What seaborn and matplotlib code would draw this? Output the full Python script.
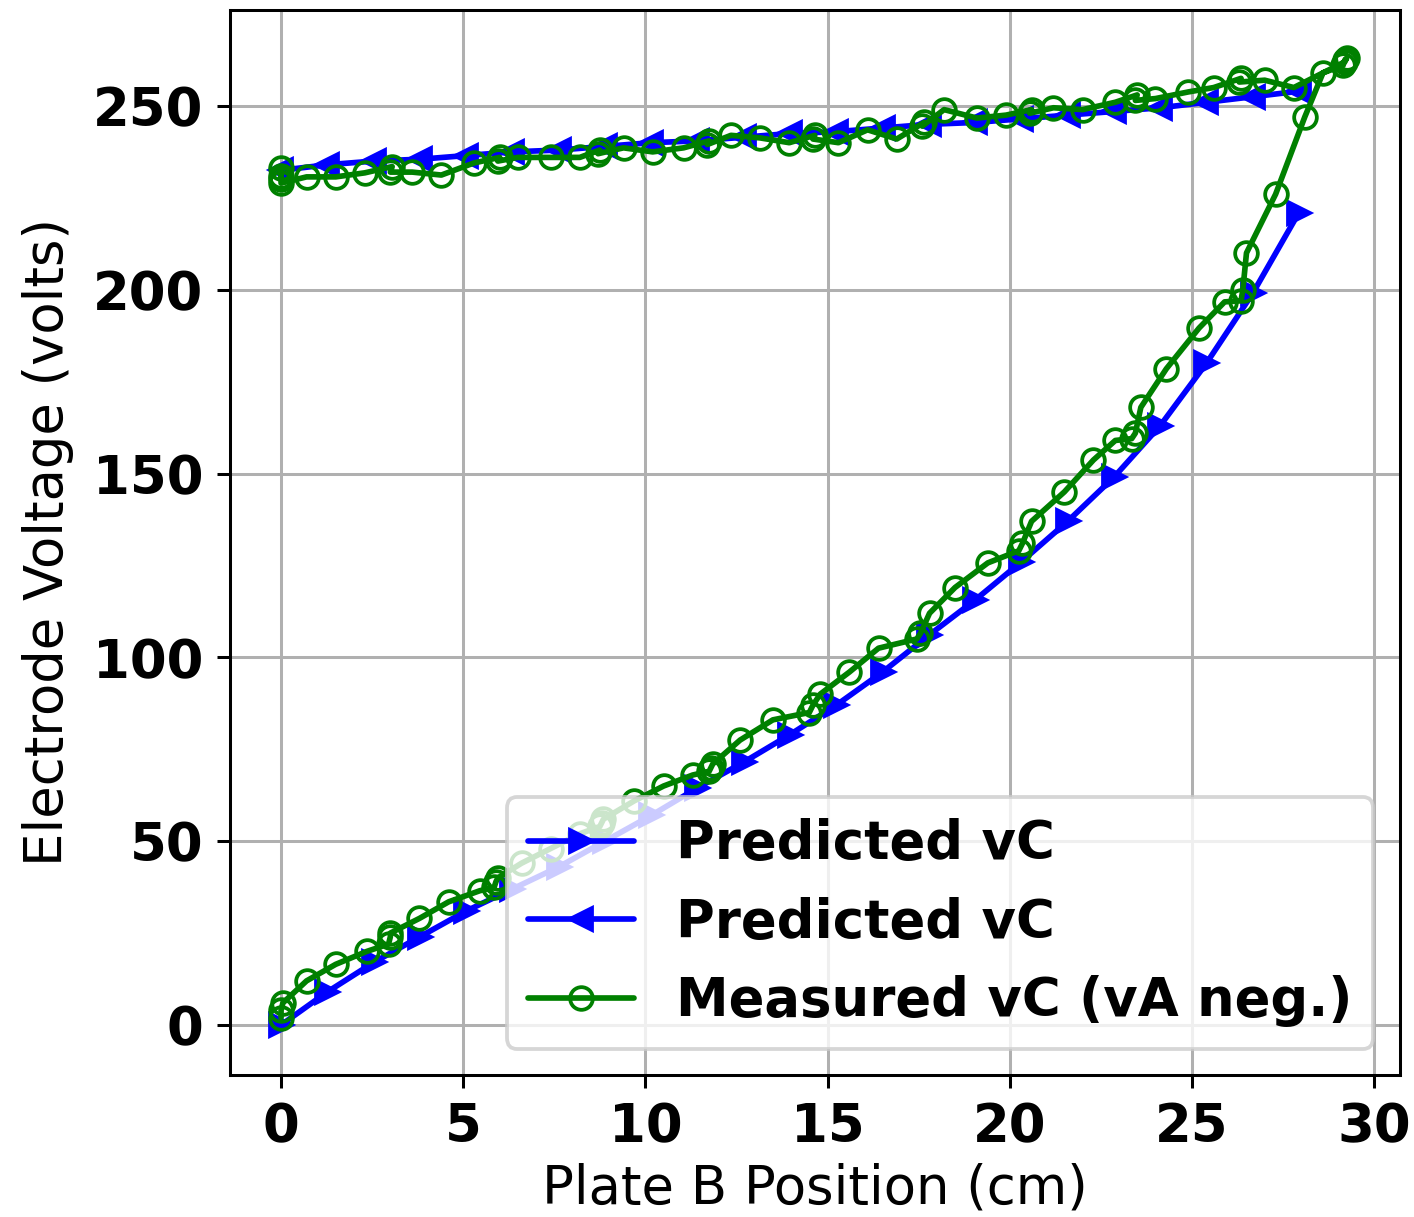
import matplotlib
matplotlib.use("Agg")
import matplotlib.pyplot as plt
import seaborn as sns

# Plate B positions for the model (half-inch steps, in cm)
pred_x = [0.0, 1.27, 2.54, 3.81, 5.08, 6.35, 7.62, 8.89, 10.16, 11.43, 12.7,
          13.97, 15.24, 16.51, 17.78, 19.05, 20.32, 21.59, 22.86, 24.13,
          25.4, 26.67, 27.94]
# Predicted vC while plate B moves outward
pred_out_v = [0, 9, 17, 24, 31, 37, 43, 50, 57, 64.5, 71.5, 79, 87, 96, 106,
              115.6, 126, 137, 149, 163, 180, 199, 221]
# Predicted vC while plate B moves back (listed from far end to start)
pred_back_x = pred_x[::-1]
pred_back_v = [254, 252.5, 251, 249.5, 248.5, 247.5, 246.5, 245.5, 245, 244,
               243, 242.5, 241.5, 240.5, 240, 239, 238, 237.5, 236.5, 235.5,
               235, 234, 232.5]

# Measured vC (vA negative), full sweep out and back
meas_x = [0.0, 0.0, 0.05, 0.7, 1.5, 2.35, 2.95, 3.0, 3.0, 3.8, 4.6, 5.45,
          5.85, 5.9, 5.95, 6.6, 7.4, 8.2, 8.75, 8.8, 8.85, 9.7, 10.5, 11.3,
          11.75, 11.8, 11.85, 12.6, 13.5, 14.5, 14.6, 14.8, 15.6, 16.4, 17.45,
          17.55, 17.8, 18.5, 19.4, 20.25, 20.35, 20.6, 21.5, 22.3, 22.9, 23.35,
          23.45, 23.6, 24.3, 25.2, 25.9, 26.35, 26.4, 26.5, 27.3, 28.1, 28.6,
          29.15, 29.2, 29.25,
          29.2, 27.8, 27.0, 26.3, 26.35, 25.6, 24.9, 24.0, 23.45, 23.5, 22.9,
          22.0, 21.2, 20.55, 20.6, 19.9, 19.1, 18.2, 17.6, 17.65, 16.9, 16.1,
          15.3, 14.6, 14.65, 13.95, 13.15, 12.35, 11.7, 11.75, 11.05, 10.2,
          9.4, 8.7, 8.75, 8.2, 7.4, 6.5, 5.95, 6.0, 5.3, 4.4, 3.6, 3.0, 3.05,
          2.3, 1.5, 0.7, 0.0, 0.0, 0.0, 0.0]
meas_v = [2, 4, 6, 12, 16.5, 20, 22, 24, 25, 29, 33.5, 36.5, 37.5, 39, 40,
          44, 48, 52, 54, 55, 56, 61, 65, 68, 69, 70, 71, 77.5, 83, 85, 87,
          90, 96, 102.5, 105, 106.5, 112, 119, 125.7, 129, 131, 137, 145,
          153.7, 159, 159.5, 161, 168, 178.5, 189.6, 196.7, 197, 200, 210,
          226, 247, 259, 261, 262.5, 263,
          262, 255, 257, 256.5, 257.5, 255, 253.8, 252, 251.5, 253, 251,
          249, 249.5, 248, 249, 247.5, 246.7, 249, 244.5, 245.5, 241, 243.5,
          240, 241, 242, 240, 241.3, 242, 239.5, 240.5, 238.6, 237.5, 238.6,
          237, 238, 236, 236, 236, 235, 236, 234.5, 231.2, 232, 232, 233.5,
          231.8, 230.7, 230.7, 229, 231, 233, 230]

sns.set_style("ticks", {"axes.grid": True})
plt.rcParams.update({
    "font.family": ["DejaVu Sans"],
    "text.color": "black",
    "axes.labelcolor": "black",
    "axes.edgecolor": "black",
    "axes.linewidth": 0.8,
    "grid.color": "#b0b0b0",
    "grid.linewidth": 0.8,
    "xtick.color": "black",
    "ytick.color": "black",
    "xtick.major.size": 3.5,
    "ytick.major.size": 3.5,
    "xtick.major.width": 0.8,
    "ytick.major.width": 0.8,
})

dpi = 272
fig = plt.figure(figsize=(1414 / dpi, 1217 / dpi), dpi=dpi)
ax = fig.add_axes([0.1627, 0.1167, 0.8273, 0.8751])

sns.lineplot(x=pred_x, y=pred_out_v, sort=False, estimator=None, ax=ax,
             color="b", marker=">", markersize=6, linewidth=1.5,
             markeredgecolor="b", markeredgewidth=1.0, label="Predicted vC")
sns.lineplot(x=pred_back_x, y=pred_back_v, sort=False, estimator=None, ax=ax,
             color="b", marker="<", markersize=6, linewidth=1.5,
             markeredgecolor="b", markeredgewidth=1.0, label="Predicted vC")
sns.lineplot(x=meas_x, y=meas_v, sort=False, estimator=None, ax=ax,
             color="g", marker="o", markersize=6, linewidth=1.5,
             markerfacecolor="none", markeredgecolor="g", markeredgewidth=1.0,
             label="Measured vC (vA neg.)")

ax.set_xlim(-1.4, 30.71)
ax.set_ylim(-13.6, 276.1)
ax.set_xticks([0, 5, 10, 15, 20, 25, 30])
ax.set_yticks([0, 50, 100, 150, 200, 250])
for lab in ax.get_xticklabels() + ax.get_yticklabels():
    lab.set_fontsize(14)
    lab.set_fontweight("bold")
    lab.set_color("black")
ax.set_xlabel("Plate B Position (cm)", fontsize=14, color="black", labelpad=2.5)
ax.set_ylabel("Electrode Voltage (volts)", fontsize=14, color="black", labelpad=5)
for s in ax.spines.values():
    s.set_visible(True)
    s.set_color("black")

leg = ax.legend(loc="lower right", prop={"weight": "bold", "size": 14},
                framealpha=0.8, fancybox=True)
for t in leg.get_texts():
    t.set_color("black")

fig.savefig("out.png", dpi=dpi)
